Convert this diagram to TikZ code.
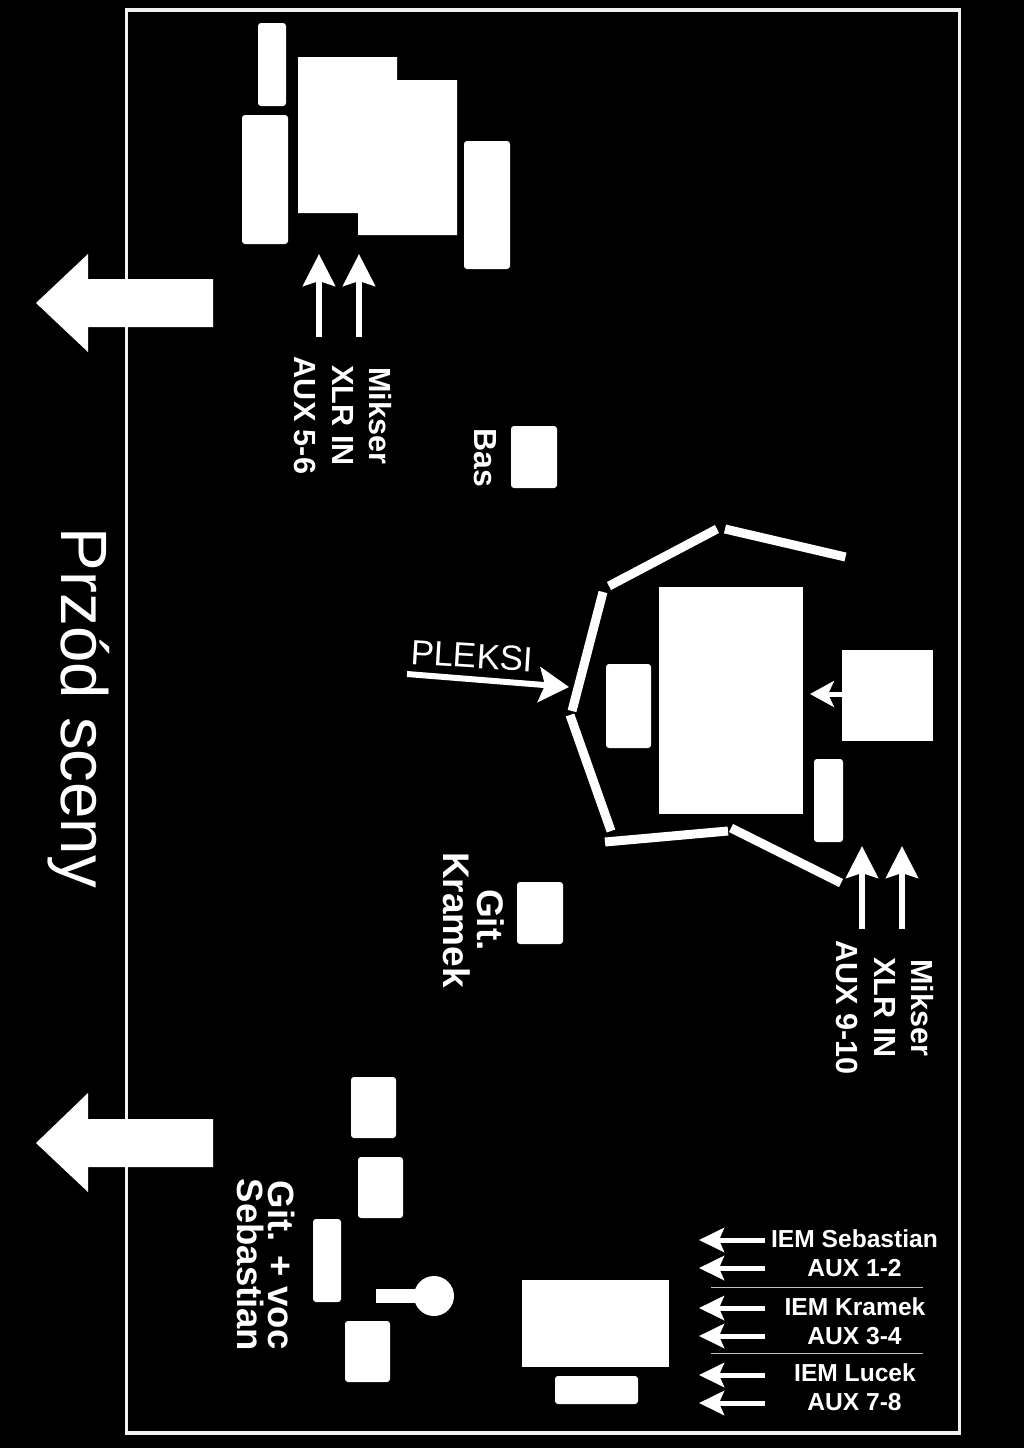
\documentclass[tikz,border=0pt]{standalone}
\usepackage{fontspec}
\setmainfont{Liberation Sans}
\usetikzlibrary{arrows.meta}
\tikzset{
  x=1pt,y=-1pt,
  frame/.style={draw=white!95!black,line width=3.5pt},
  solid box/.style={fill=white},
  soft box/.style={fill=white,rounded corners=3pt},
  plexi/.style={draw=white,line width=9pt},
  sep/.style={draw=white!75!black,line width=1pt},
  cue/.style={draw=white,line width=6pt,-{Stealth[length=32pt,width=32pt,inset=5pt]}},
  iem/.style={draw=white,line width=5pt,-{Stealth[length=25pt,width=24pt,inset=5pt]}},
  pointer/.style={draw=white,line width=6pt,-{Stealth[length=30pt,width=35pt,inset=6pt]}},
  small pointer/.style={draw=white,line width=5pt,-{Stealth[length=24pt,width=26pt,inset=6pt]}},
  side label/.style={text=white,font=\bfseries\fontsize{30.6}{37.5}\selectfont,align=center,rotate=-90,inner sep=0pt},
  bas label/.style={text=white,font=\bfseries\fontsize{32}{34}\selectfont,align=center,rotate=-90,inner sep=0pt},
  kramek label/.style={text=white,font=\bfseries\fontsize{37}{34}\selectfont,align=center,rotate=-90,inner sep=0pt},
  seb label/.style={text=white,font=\bfseries\fontsize{36.5}{31}\selectfont,align=center,rotate=-90,inner sep=0pt},
  iem label/.style={text=white,font=\bfseries\fontsize{24.6}{26}\selectfont,text height=17.7pt,text depth=0pt,inner sep=0pt},
}
\begin{document}
\begin{tikzpicture}
\useasboundingbox (0,0) rectangle (1024,1448);
\fill[black] (0,0) rectangle (1024,1448);
\draw[frame] (126.5,10) rectangle (959.5,1433);

% front arrows
\fill[white] (36,303) -- (88,254) -- (88,279) -- (213,279) -- (213,327) -- (88,327) -- (88,352) -- cycle;
\fill[white] (36,1143) -- (88,1093) -- (88,1119) -- (213,1119) -- (213,1167) -- (88,1167) -- (88,1192) -- cycle;
\node[text=white,font=\fontsize{65.5}{68}\selectfont,rotate=-90,inner sep=0pt] (front) at (79,708) {Przód sceny};

% upper left group
\fill[soft box] (258,23) rectangle (286,106);
\fill[soft box] (242,115) rectangle (288,244);
\fill[solid box] (298,57) -- (397,57) -- (397,80) -- (457,80) -- (457,235) -- (358,235) -- (358,213) -- (298,213) -- cycle;
\fill[soft box] (464,141) rectangle (510,269);
\coordinate (a1s) at (319,337); \coordinate (a1e) at (319,254);
\coordinate (a2s) at (359,337); \coordinate (a2e) at (359,254);
\draw[cue] (a1s) -- (a1e);
\draw[cue] (a2s) -- (a2e);
\node[side label] (mix1) at (343,415.5) {Mikser\\XLR IN\\AUX 5-6};

% bass
\fill[soft box] (511,426) rectangle (557,488);
\node[bas label] (bas) at (485,458) {Bas};

% drums
\fill[solid box] (659,587) rectangle (803,814);
\fill[soft box] (606,664) rectangle (651,748);
\fill[solid box] (842,650) rectangle (933,741);
\fill[soft box] (814,759) rectangle (843,842);
\coordinate (d1s) at (843,694); \coordinate (d1e) at (810,694);
\draw[small pointer] (d1s) -- (d1e);

% plexi
\coordinate (p1) at (603,592); \coordinate (p2) at (572,711);
\coordinate (p3) at (570,715); \coordinate (p4) at (611,831);
\coordinate (p5) at (605,842); \coordinate (p6) at (728,831);
\coordinate (p7) at (731,828); \coordinate (p8) at (841,883);
\coordinate (p9) at (609,586); \coordinate (p10) at (717,529);
\coordinate (p11) at (725,529); \coordinate (p12) at (845.5,557);
\draw[plexi] (p1) -- (p2);
\draw[plexi] (p3) -- (p4);
\draw[plexi] (p5) -- (p6);
\draw[plexi] (p7) -- (p8);
\draw[plexi] (p9) -- (p10);
\draw[plexi] (p11) -- (p12);
\coordinate (ps) at (407,674); \coordinate (pe) at (569,687);
\draw[pointer] (ps) -- (pe);
\node[text=white,font=\fontsize{35}{37}\selectfont,rotate=-3.5,inner sep=0pt] (pleksi) at (472,656) {PLEKSI};

% drum mic inputs
\coordinate (a3s) at (862,929); \coordinate (a3e) at (862,846);
\coordinate (a4s) at (902,929); \coordinate (a4e) at (902,846);
\draw[cue] (a3s) -- (a3e);
\draw[cue] (a4s) -- (a4e);
\node[side label] (mix2) at (885,1007.5) {Mikser\\XLR IN\\AUX 9-10};

% guitar Kramek
\fill[soft box] (517,882) rectangle (563,944);
\node[kramek label] (kramek) at (474,920) {Git.\\Kramek};

% guitar Sebastian
\fill[soft box] (351,1077) rectangle (396,1138);
\fill[soft box] (358,1157) rectangle (403,1218);
\fill[soft box] (313,1219) rectangle (341,1302);
\fill[soft box] (345,1321) rectangle (390,1382);
\fill[white] (376,1289) rectangle (420,1303);
\fill[white] (434,1296) circle (20);
\node[seb label] (seb) at (266,1265) {Git. + voc\\Sebastian};

% mixer desk
\fill[solid box] (522,1280) rectangle (669,1367);
\fill[soft box] (555,1376) rectangle (638,1404);

% IEM sends
\foreach \n/\y in {1/1240,2/1268,3/1308,4/1336,5/1375,6/1403}{
  \coordinate (i\n s) at (765,\y);
  \coordinate (i\n e) at (699,\y);
  \draw[iem] (i\n s) -- (i\n e);
}
\node[iem label] (l1) at (854.5,1239) {IEM Sebastian};
\node[iem label] (l2) at (854.5,1268) {AUX 1-2};
\node[iem label] (l3) at (855,1307) {IEM Kramek};
\node[iem label] (l4) at (854.5,1336) {AUX 3-4};
\node[iem label] (l5) at (855,1373) {IEM Lucek};
\node[iem label] (l6) at (854.5,1402) {AUX 7-8};
\coordinate (s1a) at (711,1287); \coordinate (s1b) at (923,1287);
\coordinate (s2a) at (711,1353); \coordinate (s2b) at (923,1353);
\draw[sep] (s1a) -- (s1b);
\draw[sep] (s2a) -- (s2b);
\end{tikzpicture}
\end{document}
